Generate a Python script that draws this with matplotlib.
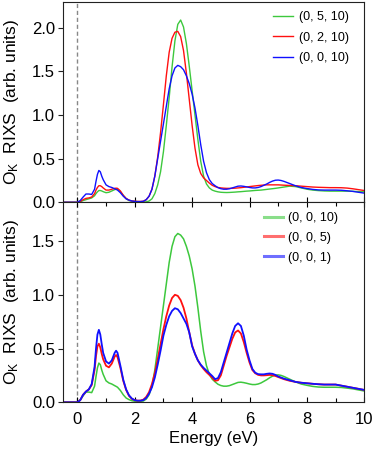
import matplotlib
matplotlib.use("Agg")
import matplotlib.pyplot as plt
from matplotlib.lines import Line2D
from matplotlib.ticker import MultipleLocator, FormatStrFormatter

plt.rcParams['font.family'] = ['Liberation Sans', 'DejaVu Sans']
plt.rcParams['mathtext.default'] = 'regular'

# Energy grid (eV)
energy = [-0.5, 0.0, 0.1, 0.2, 0.3, 0.4, 0.5, 0.6, 0.65, 0.7, 0.75, 0.8, 0.85, 0.9, 1.0, 1.1, 1.2, 1.3, 1.35,
          1.4, 1.5, 1.6, 1.7, 1.8, 1.9, 2.0, 2.1, 2.2, 2.3,
          2.4, 2.5, 2.6, 2.7, 2.8, 2.9, 3.0, 3.1, 3.2, 3.3,
          3.4, 3.5, 3.6, 3.7, 3.8, 3.9, 4.0, 4.1, 4.2, 4.3,
          4.4, 4.5, 4.6, 4.7, 4.8, 4.9, 5.0, 5.1, 5.2, 5.3,
          5.4, 5.5, 5.6, 5.7, 5.8, 5.9, 6.0, 6.1, 6.2, 6.3,
          6.4, 6.5, 6.6, 6.7, 6.8, 6.9, 7.0, 7.1, 7.2,
          7.4, 7.6, 7.8, 8.0, 8.2, 8.4, 8.6, 8.8, 9.0, 9.2, 9.4, 9.6, 9.8, 10.0]

# (0, 0, 10)
q_0_0_10 = [0, 0, 0.02, 0.06, 0.095, 0.095, 0.09, 0.15, 0.24, 0.32, 0.365, 0.35, 0.30, 0.26, 0.20, 0.18, 0.17, 0.155, 0.148,
            0.14, 0.11, 0.07, 0.04, 0.025, 0.015, 0.01, 0.008, 0.008, 0.012,
            0.03, 0.07, 0.15, 0.30, 0.50, 0.70, 0.90, 1.10, 1.30, 1.45,
            1.54, 1.57, 1.555, 1.52, 1.45, 1.36, 1.24, 1.08, 0.88, 0.66,
            0.47, 0.34, 0.26, 0.215, 0.19, 0.168, 0.156, 0.15, 0.15, 0.155,
            0.165, 0.175, 0.185, 0.187, 0.183, 0.177, 0.17, 0.165, 0.165, 0.17,
            0.18, 0.195, 0.21, 0.228, 0.243, 0.253, 0.255, 0.25, 0.24,
            0.215, 0.19, 0.17, 0.158, 0.148, 0.142, 0.14, 0.14, 0.14, 0.138, 0.132, 0.125, 0.115, 0.105]

# (0, 2, 10)
q_0_2_10 = [0, 0, 0.01, 0.03, 0.045, 0.05, 0.06, 0.10, 0.14, 0.17, 0.19, 0.19, 0.18, 0.165, 0.14, 0.14, 0.15, 0.16, 0.162,
            0.16, 0.13, 0.08, 0.045, 0.025, 0.015, 0.012, 0.01, 0.01, 0.012,
            0.03, 0.07, 0.15, 0.30, 0.52, 0.80, 1.12, 1.45, 1.72, 1.88,
            1.95, 1.96, 1.90, 1.74, 1.48, 1.18, 0.88, 0.62, 0.43, 0.33,
            0.28, 0.25, 0.22, 0.195, 0.18, 0.17, 0.165, 0.162, 0.16, 0.16,
            0.16, 0.162, 0.165, 0.168, 0.172, 0.176, 0.18, 0.184, 0.188, 0.192,
            0.195, 0.198, 0.2, 0.2, 0.2, 0.2, 0.2, 0.198, 0.196,
            0.193, 0.19, 0.185, 0.18, 0.175, 0.172, 0.17, 0.168, 0.168, 0.167, 0.163, 0.155, 0.145, 0.135]

# (0, 5, 10)
q_0_5_10 = [0, 0, 0.005, 0.02, 0.03, 0.04, 0.05, 0.075, 0.10, 0.12, 0.135, 0.135, 0.13, 0.122, 0.11, 0.115, 0.13, 0.145, 0.15,
            0.148, 0.12, 0.08, 0.04, 0.02, 0.012, 0.01, 0.008, 0.006, 0.005,
            0.005, 0.015, 0.04, 0.10, 0.20, 0.35, 0.58, 0.88, 1.20, 1.55,
            1.85, 2.04, 2.09, 2.01, 1.82, 1.56, 1.28, 1.00, 0.72, 0.47,
            0.30, 0.21, 0.165, 0.14, 0.128, 0.12, 0.115, 0.113, 0.112, 0.113,
            0.115, 0.117, 0.12, 0.122, 0.125, 0.128, 0.13, 0.133, 0.136, 0.138,
            0.14, 0.144, 0.148, 0.152, 0.156, 0.16, 0.165, 0.17, 0.175,
            0.185, 0.18, 0.165, 0.15, 0.14, 0.134, 0.13, 0.128, 0.128, 0.128, 0.128, 0.126, 0.123, 0.12]

# (0, 0, 5)
q_0_0_5 = [0, 0, 0.02, 0.07, 0.10, 0.12, 0.16, 0.30, 0.43, 0.52, 0.545, 0.51, 0.45, 0.40, 0.34, 0.325, 0.36, 0.425, 0.44,
           0.42, 0.32, 0.20, 0.115, 0.06, 0.032, 0.02, 0.015, 0.016, 0.025,
           0.05, 0.095, 0.17, 0.27, 0.40, 0.54, 0.68, 0.80, 0.90, 0.97,
           1.00, 0.99, 0.95, 0.88, 0.78, 0.65, 0.53, 0.45, 0.39, 0.345,
           0.31, 0.28, 0.255, 0.23, 0.20, 0.205, 0.25, 0.34, 0.43, 0.51,
           0.59, 0.65, 0.668, 0.64, 0.56, 0.46, 0.37, 0.30, 0.27, 0.255,
           0.25, 0.25, 0.252, 0.255, 0.252, 0.245, 0.235, 0.225, 0.215,
           0.2, 0.19, 0.182, 0.177, 0.172, 0.168, 0.165, 0.165, 0.165, 0.155, 0.145, 0.135, 0.125, 0.115]

# (0, 0, 1)
q_0_0_1 = [0, 0, 0.02, 0.07, 0.10, 0.12, 0.17, 0.33, 0.50, 0.63, 0.674, 0.63, 0.54, 0.46, 0.38, 0.36, 0.39, 0.46, 0.48,
           0.46, 0.34, 0.21, 0.12, 0.065, 0.035, 0.02, 0.015, 0.015, 0.02,
           0.04, 0.08, 0.14, 0.23, 0.35, 0.48, 0.62, 0.72, 0.80, 0.85,
           0.875, 0.865, 0.83, 0.78, 0.73, 0.65, 0.52, 0.45, 0.39, 0.35,
           0.32, 0.295, 0.27, 0.245, 0.215, 0.225, 0.28, 0.37, 0.46, 0.55,
           0.64, 0.71, 0.735, 0.71, 0.62, 0.49, 0.39, 0.31, 0.275, 0.262,
           0.26, 0.26, 0.265, 0.268, 0.265, 0.255, 0.24, 0.23, 0.22,
           0.205, 0.19, 0.182, 0.177, 0.172, 0.168, 0.165, 0.165, 0.165, 0.155, 0.145, 0.135, 0.125, 0.115]

top_labels = ['(0, 5, 10)', '(0, 2, 10)', '(0, 0, 10)']
bottom_labels = ['(0, 0, 10)', '(0, 0, 5)', '(0, 0, 1)']

GREEN = '#3dc83d'
RED = '#ff1010'
BLUE = '#1010ff'

W, H = 374, 451
fig = plt.figure(figsize=(W / 100, H / 100), dpi=100)

left = 63 / W
width = (364.3 - 63) / W
ax1 = fig.add_axes([left, 1 - 202.3 / H, width, (202.3 - 1.7) / H])
ax2 = fig.add_axes([left, 1 - 402.3 / H, width, 200.0 / H])

# top panel
ax1.plot(energy, q_0_5_10, color=GREEN, lw=1.0)
ax1.plot(energy, q_0_2_10, color=RED, lw=1.0)
ax1.plot(energy, q_0_0_10, color=BLUE, lw=1.0)
ax1.set_ylim(0, 2.3)

# bottom panel
ax2.plot(energy, q_0_0_10, color=GREEN, lw=1.1)
ax2.plot(energy, q_0_0_5, color=RED, lw=1.3)
ax2.plot(energy, q_0_0_1, color=BLUE, lw=1.3)
ax2.set_ylim(0, 1.86)

for ax in (ax1, ax2):
    ax.set_xlim(-0.5, 10)
    ax.axvline(0, color='#888888', lw=1.0, ls=(0, (3, 2)), zorder=0)
    ax.yaxis.set_major_locator(MultipleLocator(0.5))
    ax.yaxis.set_major_formatter(FormatStrFormatter('%.1f'))
    ax.xaxis.set_major_locator(MultipleLocator(2))
    ax.xaxis.set_minor_locator(MultipleLocator(1))
    for s in ax.spines.values():
        s.set_linewidth(0.8)
        s.set_color('#222222')
    ax.tick_params(axis='y', which='major', direction='out', length=3.6, width=0.8,
                   labelsize=12, pad=2, left=True, right=False, colors='#222222', labelcolor='black')
    ax.set_ylabel('O$_K$  RIXS  (arb. units)', fontsize=12.5)
    ax.yaxis.set_label_coords(-0.14, 0.5)

ax1.tick_params(axis='x', which='major', direction='in', length=3.5, width=0.8,
                bottom=True, top=False, labelbottom=False)
ax1.tick_params(axis='x', which='minor', bottom=False, top=False)

ax2.tick_params(axis='x', which='major', direction='in', length=3.5, width=0.8,
                bottom=True, top=True, labelsize=12, pad=7)
ax2.tick_params(axis='x', which='minor', direction='in', length=3.2, width=0.8,
                bottom=True, top=True)
ax2.set_xlabel('Energy (eV)', fontsize=12, labelpad=3)

# legends
h_top = [Line2D([], [], color=c, lw=1.0) for c in (GREEN, RED, BLUE)]
ax1.legend(h_top, top_labels, loc='upper left', bbox_to_anchor=(273 / W, 1 - 11 / H),
           bbox_transform=fig.transFigure, frameon=False, fontsize=9,
           handlelength=1.6, handletextpad=0.5, labelspacing=0.7,
           borderpad=0, borderaxespad=0)

h_bot = [Line2D([], [], color=c, lw=2.2, alpha=0.6) for c in (GREEN, RED, BLUE)]
ax2.legend(h_bot, bottom_labels, loc='upper left', bbox_to_anchor=(264 / W, 1 - 212 / H),
           bbox_transform=fig.transFigure, frameon=False, fontsize=9,
           handlelength=1.5, handletextpad=0.45, labelspacing=0.62,
           borderpad=0, borderaxespad=0)

fig.savefig('out.png', dpi=100)
